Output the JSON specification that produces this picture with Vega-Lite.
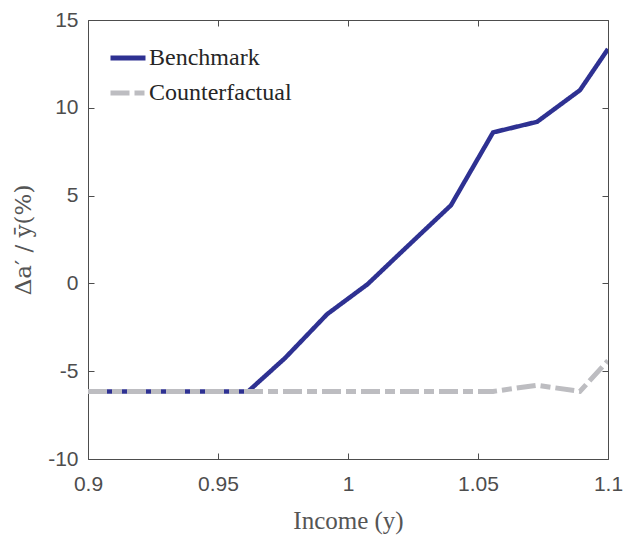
{
  "$schema": "https://vega.github.io/schema/vega-lite/v6.json",
  "width": 520,
  "height": 439,
  "autosize": {"type": "none"},
  "padding": {"left": 88, "top": 20, "right": 18, "bottom": 78},
  "background": "white",
  "config": {
    "view": {"stroke": null},
    "axis": {"grid": false, "domainColor": "#4d4d4d", "tickColor": "#4d4d4d", "labelColor": "#4d4d4d", "labelFont": "Liberation Sans", "labelFontSize": 21, "titleFont": "Liberation Serif", "titleFontSize": 25, "titleFontWeight": "normal", "titleColor": "#555555", "domainWidth": 1}
  },
  "data": {"values": [
    {"x": 0.9, "y": -6.15, "series": "Benchmark"},
    {"x": 0.9616, "y": -6.15, "series": "Benchmark"},
    {"x": 0.9758, "y": -4.25, "series": "Benchmark"},
    {"x": 0.992, "y": -1.75, "series": "Benchmark"},
    {"x": 1.0075, "y": -0.05, "series": "Benchmark"},
    {"x": 1.0235, "y": 2.2, "series": "Benchmark"},
    {"x": 1.0396, "y": 4.45, "series": "Benchmark"},
    {"x": 1.0558, "y": 8.6, "series": "Benchmark"},
    {"x": 1.0727, "y": 9.2, "series": "Benchmark"},
    {"x": 1.0892, "y": 11.0, "series": "Benchmark"},
    {"x": 1.1, "y": 13.35, "series": "Benchmark"},
    {"x": 0.9, "y": -6.15, "series": "Counterfactual"},
    {"x": 1.0558, "y": -6.15, "series": "Counterfactual"},
    {"x": 1.0727, "y": -5.8, "series": "Counterfactual"},
    {"x": 1.0892, "y": -6.15, "series": "Counterfactual"},
    {"x": 1.1, "y": -4.4, "series": "Counterfactual"}
  ]},
  "resolve": {"axis": {"x": "independent", "y": "independent"}},
  "layer": [
    {
      "transform": [{"filter": "datum.series === 'Benchmark'"}],
      "mark": {"type": "line", "strokeWidth": 4.5, "clip": true},
      "encoding": {
        "x": {"field": "x", "type": "quantitative", "scale": {"domain": [0.9, 1.1], "nice": false, "zero": false},
          "axis": {"orient": "bottom", "values": [0.9, 0.95, 1, 1.05, 1.1], "labelExpr": "'' + datum.value", "tickSize": -6, "labelPadding": 20, "title": "Income (y)", "titlePadding": 14, "labelFlush": false}},
        "y": {"field": "y", "type": "quantitative", "scale": {"domain": [-10, 15], "nice": false, "zero": false},
          "axis": {"orient": "left", "values": [-10, -5, 0, 5, 10, 15], "labelExpr": "'' + datum.value", "tickSize": -6, "labelPadding": 16, "title": "Δa′ / ȳ(%)", "titleFont": "DejaVu Serif", "titleFontSize": 23, "titlePadding": 12, "labelFlush": false}},
        "color": {"field": "series", "type": "nominal", "scale": {"domain": ["Benchmark", "Counterfactual"], "range": ["#2e3192", "#bdbdc1"]},
          "legend": {"orient": "none", "legendX": 20, "legendY": 18, "title": null, "symbolType": "stroke", "symbolSize": 1225, "symbolStrokeWidth": 5, "labelFont": "Liberation Serif", "labelFontSize": 24, "labelColor": "#262626", "labelOffset": 1, "rowPadding": 3, "padding": 0}},
        "strokeDash": {"field": "series", "type": "nominal", "scale": {"domain": ["Benchmark", "Counterfactual"], "range": [[1, 0], [19, 5, 10, 5]]}}
      }
    },
    {
      "transform": [{"filter": "datum.series === 'Counterfactual'"}],
      "mark": {"type": "line", "strokeWidth": 5, "clip": true},
      "encoding": {
        "x": {"field": "x", "type": "quantitative", "axis": null},
        "y": {"field": "y", "type": "quantitative", "axis": null},
        "color": {"field": "series", "type": "nominal"},
        "strokeDash": {"field": "series", "type": "nominal"}
      }
    },
    {
      "transform": [{"filter": "datum.series === 'Counterfactual'"}],
      "mark": {"type": "point", "opacity": 0},
      "encoding": {
        "x": {"field": "x", "type": "quantitative", "axis": {"orient": "top", "values": [0.9, 0.95, 1, 1.05, 1.1], "labels": false, "tickSize": -6, "title": null}},
        "y": {"field": "y", "type": "quantitative", "axis": {"orient": "right", "values": [-10, -5, 0, 5, 10, 15], "labels": false, "tickSize": -6, "title": null}}
      }
    }
  ]
}
